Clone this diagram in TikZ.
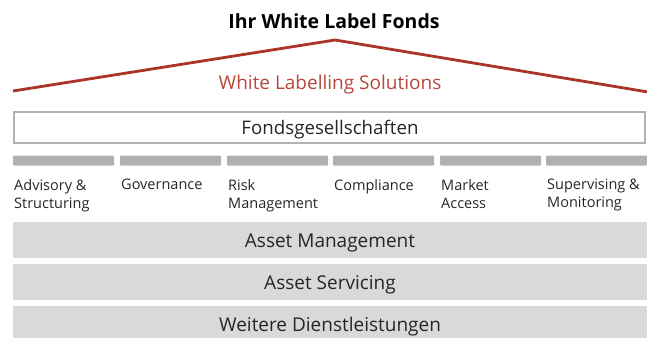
\documentclass[tikz,border=0pt]{standalone}
\usepackage{fontspec}
\setmainfont{Open Sans}
\definecolor{roof}{RGB}{172,52,40}
\definecolor{rooftext}{RGB}{185,70,58}
\definecolor{barg}{RGB}{176,176,178}
\definecolor{bandg}{RGB}{217,217,217}
\definecolor{boxline}{RGB}{178,178,178}
\begin{document}
\begin{tikzpicture}[x=1pt,y=-1pt,
  bar/.style={fill=barg,rounded corners=1pt},
  band/.style={fill=bandg},
  lbl/.style={anchor=north west,align=left,inner sep=0pt,font=\fontsize{14.5}{18}\selectfont,text=black!85},
  bandtext/.style={font=\fontsize{19}{21}\selectfont,text=black!85}]
\useasboundingbox (0,0) rectangle (647,338);
\node[font=\bfseries\fontsize{19.5}{21}\selectfont] (title) at (334,21.5) {Ihr White Label Fonds};
\coordinate (rl) at (13,91);
\coordinate (ra) at (335,40);
\coordinate (rr) at (648,92);
\draw[roof,line width=2.8pt] (rl) -- (ra) -- (rr);
\node[text=rooftext,font=\fontsize{19}{21}\selectfont] (wls) at (330,85) {White Labelling Solutions};
\draw[boxline,line width=2.5pt,fill=white] (14,112) rectangle (645,143);
\node[font=\fontsize{18.7}{21}\selectfont,text=black!85] (fg) at (330,130) {Fondsgesellschaften};
\foreach \x/\n in {13/1,120/2,227/3,333/4,440/5,546/6}{
  \path[bar] (\x,155.5) rectangle ++(101,10);
}
\node[lbl] (l1) at (14,179) {Advisory \&\\Structuring};
\node[lbl] (l2) at (121,179) {Governance};
\node[lbl] (l3) at (228,179) {Risk\\Management};
\node[lbl] (l4) at (334,179) {Compliance};
\node[lbl] (l5) at (441,179) {Market\\Access};
\node[lbl] (l6) at (547,179) {Supervising \&\\Monitoring};
\path[band] (13,222) rectangle (647,258);
\node[bandtext] (am) at (330,243) {Asset Management};
\path[band] (13,264) rectangle (647,300);
\node[bandtext] (as) at (330,285) {Asset Servicing};
\path[band] (13,306) rectangle (647,338);
\node[bandtext] (wd) at (330,326.5) {Weitere Dienstleistungen};
\end{tikzpicture}
\end{document}
